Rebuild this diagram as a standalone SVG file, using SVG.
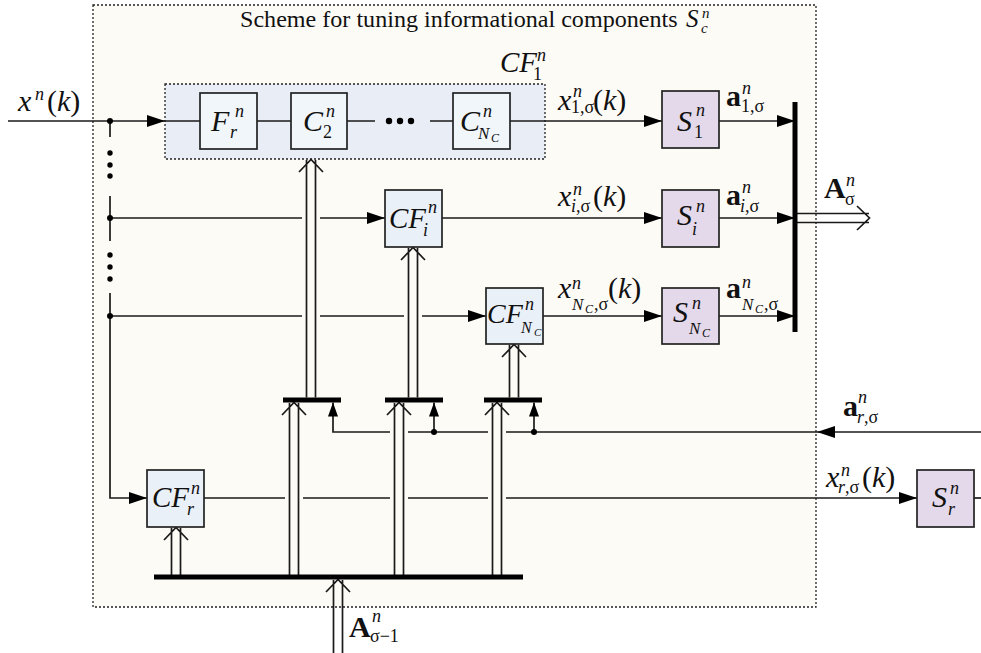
<svg xmlns="http://www.w3.org/2000/svg" width="981" height="653" viewBox="0 0 981 653">
<style>
.t{font-family:"Liberation Serif","Times New Roman",serif;fill:#111}
.i{font-style:italic}
.M{font-size:30px}
.s{font-size:18px}
.ss{font-size:13px}
.b{font-weight:bold}
.ln{stroke:#1a1a1a;stroke-width:1.7;fill:none}
.bx{stroke:#222;stroke-width:1.7}
.bl{fill:#eaf0f8}
.pu{fill:#e4d9ea}
.bar{stroke:#000;stroke-width:5;fill:none}
.cov{fill:#fdfbf6}
.dot{fill:#000}
</style>
<defs>
<marker id="ah" markerWidth="18" markerHeight="12" refX="18" refY="6" orient="auto" markerUnits="userSpaceOnUse"><path d="M0,0 L18,6 L0,12 z" fill="#000"/></marker>
<marker id="ahs" markerWidth="14" markerHeight="10" refX="14" refY="5" orient="auto" markerUnits="userSpaceOnUse"><path d="M0,0 L14,5 L0,10 z" fill="#000"/></marker>
</defs>
<rect width="981" height="653" fill="#fff"/>
<g id="outer">
<rect x="93" y="5" width="723" height="602" fill="#fdfbf6" stroke="#222" stroke-width="1.3" stroke-dasharray="2,2"/>
<text class="t" x="240" y="27" font-size="24.1">Scheme for tuning informational components</text>
<text class="t i" x="686" y="27" font-size="25">S</text>
<text class="t i" x="702" y="18" font-size="15">n</text>
<text class="t i" x="701" y="33" font-size="15">c</text>
</g>
<g id="cf1">
<rect x="165" y="84" width="380" height="75" fill="#e9eef6" stroke="#222" stroke-width="1.3" stroke-dasharray="2,2"/>
<text class="t i" font-size="29" x="500" y="72">CF</text>
<text class="t i s" x="537" y="61">n</text>
<text class="t s" x="533" y="80">1</text>
</g>
<g id="connectors">
<path class="ln" d="M8,121 H165" marker-end="url(#ah)"/>
<path class="ln" d="M165,121 H200 M257,121 H291 M347,121 H375 M430,121 H453"/>
<path class="ln" d="M510,121 H662" marker-end="url(#ah)"/>
<path class="ln" d="M719,121 H795" marker-end="url(#ah)"/>
<path class="ln" d="M110,218 H385" marker-end="url(#ah)"/>
<path class="ln" d="M442,218 H662" marker-end="url(#ah)"/>
<path class="ln" d="M719,218 H795" marker-end="url(#ah)"/>
<path class="ln" d="M110,316 H486" marker-end="url(#ah)"/>
<path class="ln" d="M543,316 H662" marker-end="url(#ah)"/>
<path class="ln" d="M719,316 H795" marker-end="url(#ah)"/>
<path class="ln" d="M110,121 V137 M110,196 V241"/>
<path class="ln" d="M110,293 V498 H147" marker-end="url(#ah)"/>
<path class="ln" d="M204,498 H917" marker-end="url(#ah)"/>
<path class="ln" d="M974,498 H981"/>
<path class="ln" d="M981,432 H817" marker-end="url(#ah)"/>
<path class="ln" d="M817,432 H333 V402.5" marker-end="url(#ahs)"/>
<path class="ln" d="M434,432 V402.5" marker-end="url(#ahs)"/>
<path class="ln" d="M534,432 V402.5" marker-end="url(#ahs)"/>
<circle class="dot" cx="110" cy="121" r="3"/>
<circle class="dot" cx="110" cy="218" r="3"/>
<circle class="dot" cx="110" cy="316" r="3"/>
<circle class="dot" cx="434" cy="432" r="3"/>
<circle class="dot" cx="534" cy="432" r="3"/>
<circle class="dot" cx="110" cy="153" r="2.7"/>
<circle class="dot" cx="110" cy="165" r="2.7"/>
<circle class="dot" cx="110" cy="176" r="2.7"/>
<circle class="dot" cx="110" cy="255" r="2.7"/>
<circle class="dot" cx="110" cy="267" r="2.7"/>
<circle class="dot" cx="110" cy="279" r="2.7"/>
<circle class="dot" cx="389" cy="121" r="3.2"/>
<circle class="dot" cx="400" cy="121" r="3.2"/>
<circle class="dot" cx="411" cy="121" r="3.2"/>
<rect class="cov" x="302" y="162" width="18" height="234"/>
<path class="ln" d="M306.5,160 V397.5 M315.5,160 V397.5 M299,172 L311,159.5 L323,172"/>
<rect class="cov" x="404" y="250" width="18" height="146"/>
<path class="ln" d="M408.5,248 V397.5 M417.5,248 V397.5 M401,260 L413,247.5 L425,260"/>
<path class="ln" d="M509.5,345 V397.5 M518.5,345 V397.5 M502,357 L514,344.5 L526,357"/>
<rect class="cov" x="285" y="405" width="18" height="170"/>
<path class="ln" d="M289.5,403 V575 M298.5,403 V575 M282,415 L294,402.5 L306,415"/>
<rect class="cov" x="390" y="405" width="18" height="170"/>
<path class="ln" d="M394.5,403 V575 M403.5,403 V575 M387,415 L399,402.5 L411,415"/>
<rect class="cov" x="488" y="405" width="18" height="170"/>
<path class="ln" d="M492.5,403 V575 M501.5,403 V575 M485,415 L497,402.5 L509,415"/>
<path class="ln" d="M171.5,528 V575 M180.5,528 V575 M164,540 L176,527.5 L188,540"/>
<path class="ln" d="M333.5,580 V653 M342.5,580 V653 M326,592 L338,579.5 L350,592"/>
<path class="ln" d="M797,213.5 H869 M797,222.5 H869 M857,206 L869.5,218 L857,230"/>
<path class="bar" d="M283,400 H341 M385,400 H443 M484,400 H542"/>
<path class="bar" d="M154,577 H523"/>
<path class="bar" d="M795,102 V332"/>
</g>
<g id="Fr">
<rect class="bx" x="200" y="93" width="57" height="56" fill="#f1f6fa"/>
<text class="t i M" x="211" y="131">F</text>
<text class="t i s" x="235" y="117">n</text>
<text class="t i s" x="230" y="138">r</text>
</g>
<g id="C2">
<rect class="bx" x="291" y="93" width="56" height="56" fill="#f1f6fa"/>
<text class="t i M" x="303" y="131">C</text>
<text class="t i s" x="326" y="117">n</text>
<text class="t s" x="323" y="138">2</text>
</g>
<g id="CNc">
<rect class="bx" x="453" y="93" width="57" height="56" fill="#f1f6fa"/>
<text class="t i M" x="460" y="131">C</text>
<text class="t i s" x="483" y="117">n</text>
<text class="t i" font-size="17" x="478" y="139">N</text>
<text class="t i" font-size="12" x="491" y="142">C</text>
</g>
<g id="CFi">
<rect class="bx bl" x="385" y="190" width="57" height="57"/>
<text class="t i" font-size="29" x="389" y="228">CF</text>
<text class="t i s" x="428" y="213">n</text>
<text class="t i s" x="423" y="236">i</text>
</g>
<g id="CFNc">
<rect class="bx bl" x="486" y="288" width="57" height="56"/>
<text class="t i" font-size="28" x="487" y="323">CF</text>
<text class="t i s" x="525" y="310">n</text>
<text class="t i" font-size="16" x="521" y="333">N</text>
<text class="t i" font-size="11" x="534" y="336">C</text>
</g>
<g id="CFr">
<rect class="bx bl" x="147" y="470" width="57" height="57"/>
<text class="t i" font-size="29" x="152" y="507">CF</text>
<text class="t i s" x="191" y="494">n</text>
<text class="t i s" x="187" y="515">r</text>
</g>
<g id="S1">
<rect class="bx pu" x="662" y="91" width="57" height="57"/>
<text class="t i M" x="677" y="131">S</text>
<text class="t i s" x="696" y="116">n</text>
<text class="t s" x="694" y="138">1</text>
</g>
<g id="Si">
<rect class="bx pu" x="662" y="190" width="57" height="57"/>
<text class="t i M" x="677" y="225">S</text>
<text class="t i s" x="696" y="212">n</text>
<text class="t i s" x="692" y="235">i</text>
</g>
<g id="SNc">
<rect class="bx pu" x="662" y="288" width="57" height="56"/>
<text class="t i M" x="673" y="322">S</text>
<text class="t i s" x="692" y="309">n</text>
<text class="t i" font-size="17" x="689" y="334">N</text>
<text class="t i" font-size="12" x="702" y="337">C</text>
</g>
<g id="Sr">
<rect class="bx pu" x="917" y="470" width="57" height="57"/>
<text class="t i M" x="932" y="507">S</text>
<text class="t i s" x="950" y="494">n</text>
<text class="t i s" x="948" y="515">r</text>
</g>
<g id="labels">
<text class="t i M" x="18" y="111">x</text>
<text class="t i s" x="35" y="100">n</text>
<text class="t M" x="47" y="111">(<tspan class="i">k</tspan>)</text>

<text class="t i M" x="558" y="110">x</text>
<text class="t i s" x="573" y="97">n</text>
<text class="t s" x="571" y="113">1,σ</text>
<text class="t M" x="593" y="110">(<tspan class="i">k</tspan>)</text>

<text class="t i M" x="558" y="206">x</text>
<text class="t i s" x="573" y="195">n</text>
<text class="t s" x="571" y="212"><tspan class="i">i</tspan>,σ</text>
<text class="t M" x="593" y="206">(<tspan class="i">k</tspan>)</text>

<text class="t i M" x="558" y="298">x</text>
<text class="t i s" x="572" y="289">n</text>
<text class="t i" font-size="17" x="572" y="310">N</text>
<text class="t i" font-size="12" x="585" y="313">C</text>
<text class="t s" x="594" y="310">,σ</text>
<text class="t M" x="608" y="298">(<tspan class="i">k</tspan>)</text>

<text class="t b M" x="726" y="106">a</text>
<text class="t i s" x="742" y="94">n</text>
<text class="t s" x="741" y="112">1,σ</text>

<text class="t b M" x="726" y="205">a</text>
<text class="t i s" x="742" y="193">n</text>
<text class="t s" x="740" y="212"><tspan class="i">i</tspan>,σ</text>

<text class="t b M" x="726" y="298">a</text>
<text class="t i s" x="742" y="288">n</text>
<text class="t i" font-size="17" x="742" y="310">N</text>
<text class="t i" font-size="12" x="755" y="313">C</text>
<text class="t s" x="764" y="310">,σ</text>

<text class="t b M" x="824" y="198">A</text>
<text class="t i s" x="846" y="186">n</text>
<text class="t s" x="845" y="205">σ</text>

<text class="t b M" x="349" y="637">A</text>
<text class="t i s" x="372" y="622">n</text>
<text class="t s" x="370" y="642">σ−1</text>

<text class="t b M" x="843" y="416">a</text>
<text class="t i s" x="858" y="403">n</text>
<text class="t s" x="857" y="423"><tspan class="i">r</tspan>,σ</text>

<text class="t i M" x="826" y="487">x</text>
<text class="t i s" x="841" y="476">n</text>
<text class="t s" x="838" y="493"><tspan class="i">r</tspan>,σ</text>
<text class="t M" x="862" y="487">(<tspan class="i">k</tspan>)</text>
</g>
</svg>
